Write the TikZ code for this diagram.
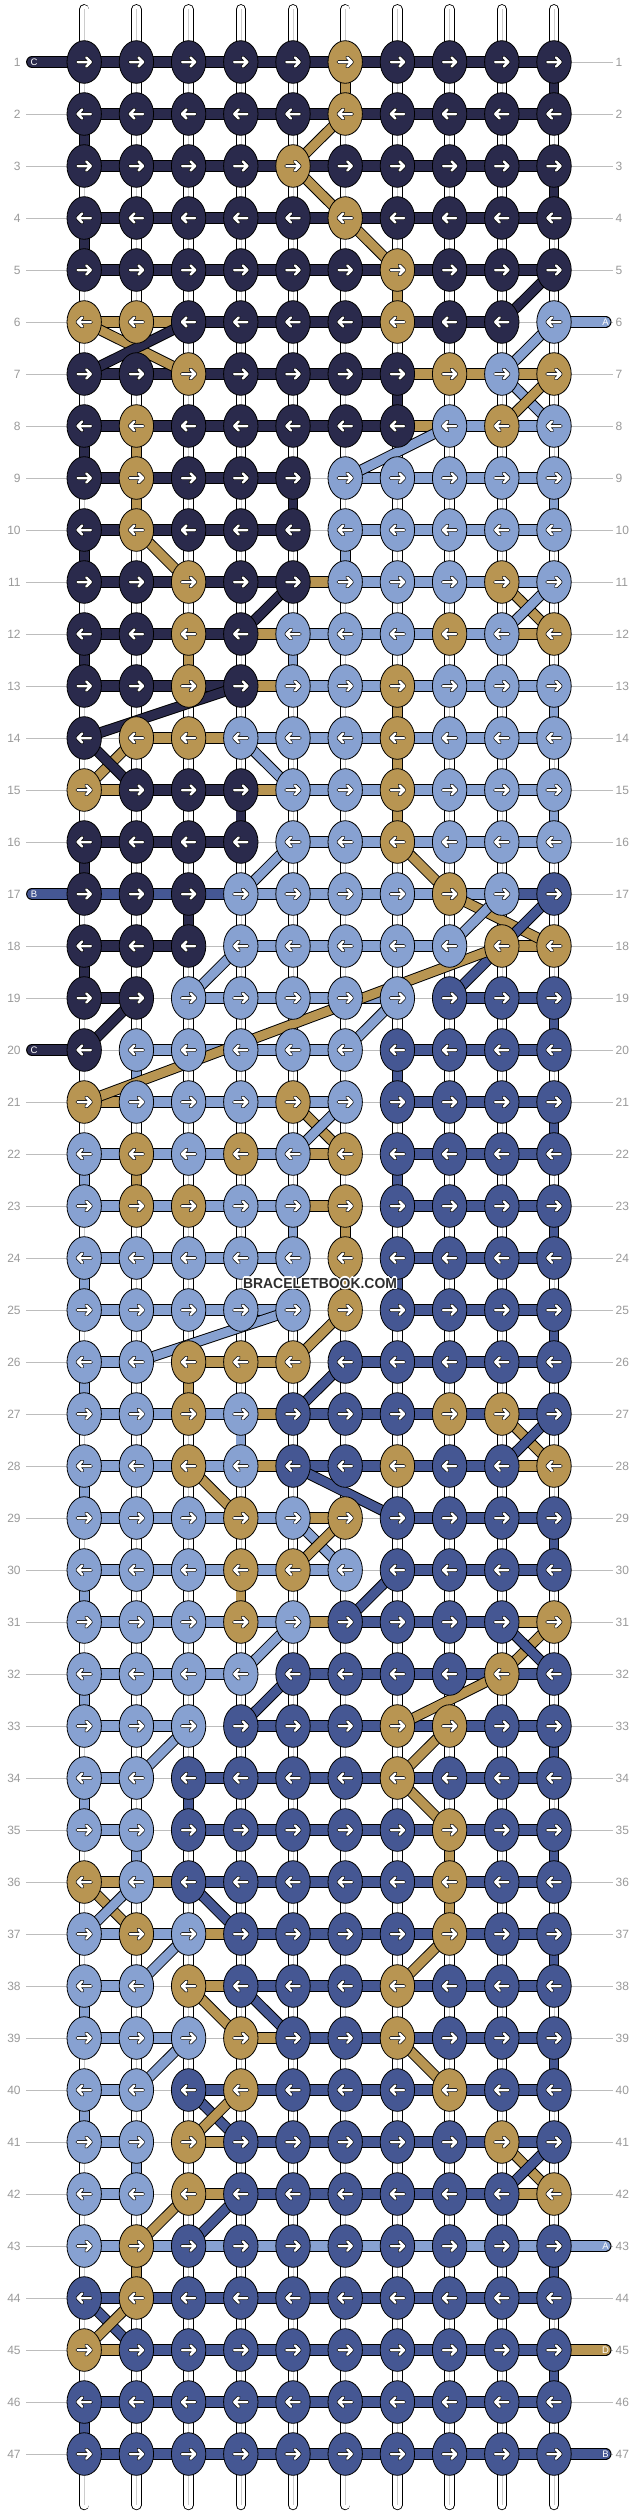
\documentclass[tikz,border=0pt]{standalone}
\usepackage{fontspec}
\setmainfont{Liberation Sans}
\usetikzlibrary{shapes.geometric}
\definecolor{kD}{HTML}{2A2A4C}
\definecolor{kG}{HTML}{B89552}
\definecolor{kL}{HTML}{87A1D1}
\definecolor{kB}{HTML}{455793}
\definecolor{lblgray}{HTML}{9A9A9A}
\definecolor{linegray}{HTML}{BDBDBD}
\definecolor{wmgray}{HTML}{2E2E2E}
\def\rowdata{%
1/{D,D,D,D,D,G,D,D,D,D}/{D,D,D,D,D,D,D,D,D}/{W,W,W,W,W,G,W,W,W,D},
2/{D,D,D,D,D,G,D,D,D,D}/{D,D,D,D,D,D,D,D,D}/{D,W,W,W,W,W,W,W,W,W},
3/{D,D,D,D,G,D,D,D,D,D}/{D,D,D,D,D,D,D,D,D}/{W,W,W,W,W,W,W,W,W,D},
4/{D,D,D,D,D,G,D,D,D,D}/{D,D,D,D,D,D,D,D,D}/{D,W,W,W,W,W,W,W,W,W},
5/{D,D,D,D,D,D,G,D,D,D}/{D,D,D,D,D,D,D,D,D}/{W,W,W,W,W,W,G,W,W,W},
6/{G,G,D,D,D,D,G,D,D,L}/{G,G,D,D,D,D,D,D,N}/{W,W,W,W,W,W,W,W,W,W},
7/{D,D,G,D,D,D,D,G,L,G}/{D,D,D,D,D,D,G,G,G}/{W,W,W,W,W,W,D,W,W,W},
8/{D,G,D,D,D,D,D,L,G,L}/{D,D,D,D,D,D,G,L,L}/{D,G,W,W,W,W,W,W,W,W},
9/{D,G,D,D,D,L,L,L,L,L}/{D,D,D,D,N,L,L,L,L}/{W,G,W,W,D,W,W,W,W,L},
10/{D,G,D,D,D,L,L,L,L,L}/{D,D,D,D,N,L,L,L,L}/{D,W,W,W,W,L,W,W,W,W},
11/{D,D,G,D,D,L,L,L,G,L}/{D,D,D,D,G,L,L,L,L}/{W,W,W,W,W,W,W,W,W,W},
12/{D,D,G,D,L,L,L,G,L,G}/{D,D,D,G,L,L,L,L,G}/{D,W,G,W,L,W,W,W,W,W},
13/{D,D,G,D,L,L,G,L,L,L}/{D,D,D,G,L,L,L,L,L}/{W,W,W,W,W,W,G,W,W,L},
14/{D,G,G,L,L,L,G,L,L,L}/{N,G,G,L,L,L,L,L,L}/{W,W,W,W,W,W,G,W,W,W},
15/{G,D,D,D,L,L,G,L,L,L}/{G,D,D,G,L,L,L,L,L}/{W,W,W,D,W,W,G,W,W,L},
16/{D,D,D,D,L,L,G,L,L,L}/{D,D,D,N,L,L,L,L,L}/{D,W,W,W,W,W,W,W,W,W},
17/{D,D,D,L,L,L,L,G,L,B}/{B,B,B,L,L,L,L,L,B}/{W,W,D,W,W,W,W,W,W,W},
18/{D,D,D,L,L,L,L,L,G,G}/{D,D,N,L,L,L,L,N,G}/{D,W,W,W,W,W,W,W,W,W},
19/{D,D,L,L,L,L,L,B,B,B}/{D,N,L,L,L,L,N,B,B}/{W,W,W,W,W,W,W,W,W,B},
20/{D,L,L,L,L,L,B,B,B,B}/{N,L,L,L,L,N,B,B,B}/{W,L,W,W,W,W,B,W,W,W},
21/{G,L,L,L,G,L,B,B,B,B}/{G,L,L,L,L,N,B,B,B}/{W,W,W,W,W,W,W,W,W,B},
22/{L,G,L,G,L,G,B,B,B,B}/{L,L,L,L,G,N,B,B,B}/{L,G,W,W,W,W,B,W,W,W},
23/{L,G,G,L,L,G,B,B,B,B}/{L,L,L,L,G,N,B,B,B}/{W,W,W,W,L,G,W,W,W,B},
24/{L,L,L,L,L,G,B,B,B,B}/{L,L,L,L,N,N,B,B,B}/{L,W,W,W,W,G,B,W,W,W},
25/{L,L,L,L,L,G,B,B,B,B}/{L,L,L,L,N,N,B,B,B}/{W,W,W,W,W,W,W,W,W,B},
26/{L,L,G,G,G,B,B,B,B,B}/{L,N,G,G,N,B,B,B,B}/{L,W,G,W,W,W,W,W,W,W},
27/{L,L,G,L,B,B,B,G,G,B}/{L,L,L,G,B,B,B,B,B}/{W,W,W,L,W,W,W,W,W,W},
28/{L,L,G,L,B,B,G,B,B,G}/{L,L,L,G,B,B,B,B,G}/{L,W,W,W,W,W,W,W,W,W},
29/{L,L,L,G,L,G,B,B,B,B}/{L,L,L,L,G,N,B,B,B}/{W,W,W,W,W,W,W,W,W,B},
30/{L,L,L,G,G,L,B,B,B,B}/{L,L,L,L,L,N,B,B,B}/{L,W,W,G,W,W,W,W,W,W},
31/{L,L,L,G,L,B,B,B,B,G}/{L,L,L,L,G,B,B,B,G}/{W,W,W,W,W,W,W,W,W,W},
32/{L,L,L,L,B,B,B,B,G,B}/{L,L,L,N,B,B,B,B,B}/{L,W,W,W,W,W,W,W,W,W},
33/{L,L,L,B,B,B,G,G,B,B}/{L,L,N,B,B,B,B,B,B}/{W,W,W,W,W,W,W,W,W,B},
34/{L,L,B,B,B,B,G,B,B,B}/{L,N,B,B,B,B,B,B,B}/{L,W,B,W,W,W,W,W,W,W},
35/{L,L,B,B,B,B,B,G,B,B}/{L,N,B,B,B,B,B,B,B}/{W,L,W,W,W,W,W,G,W,B},
36/{G,L,B,B,B,B,B,G,B,B}/{G,G,B,B,B,B,B,B,B}/{W,W,W,W,W,W,W,G,W,W},
37/{L,G,L,B,B,B,B,G,B,B}/{L,L,G,B,B,B,B,B,B}/{W,W,W,W,W,W,W,W,W,B},
38/{L,L,G,B,B,B,G,B,B,B}/{L,N,G,B,B,B,B,B,B}/{L,W,W,W,W,W,W,W,W,W},
39/{L,L,L,G,B,B,G,B,B,B}/{L,L,N,G,B,B,B,B,B}/{W,W,W,W,W,W,W,W,W,B},
40/{L,L,B,G,B,B,B,G,B,B}/{L,N,B,B,B,B,B,B,B}/{L,W,W,W,W,W,W,W,W,W},
41/{L,L,G,B,B,B,B,B,G,B}/{L,N,G,B,B,B,B,B,B}/{W,L,W,W,W,W,W,W,W,W},
42/{L,L,G,B,B,B,B,B,B,G}/{L,N,G,B,B,B,B,B,G}/{W,W,W,W,W,W,W,W,W,W},
43/{L,G,B,B,B,B,B,B,B,B}/{L,L,L,L,L,L,L,L,L}/{W,G,W,W,W,W,W,W,W,B},
44/{B,G,B,B,B,B,B,B,B,B}/{B,B,B,B,B,B,B,B,B}/{W,W,W,W,W,W,W,W,W,W},
45/{G,B,B,B,B,B,B,B,B,B}/{G,B,B,B,B,B,B,B,B}/{W,W,W,W,W,W,W,W,W,B},
46/{B,B,B,B,B,B,B,B,B,B}/{B,B,B,B,B,B,B,B,B}/{B,W,W,W,W,W,W,W,W,W},
47/{B,B,B,B,B,B,B,B,B,B}/{B,B,B,B,B,B,B,B,B}/{W,W,W,W,W,W,W,W,W,W}}
\def\diagdata{%
G/2/6/3/5, G/3/5/4/6, G/4/6/5/7, D/5/10/6/9, G/6/1/7/3, D/6/3/7/1, L/6/10/7/9,
L/7/9/8/10, G/7/10/8/9, L/8/8/9/6, G/10/2/11/3, D/11/5/12/4, G/11/9/12/10,
L/11/10/12/9, D/13/4/14/1, G/14/2/15/1, D/14/1/15/2, L/14/4/15/5, L/16/5/17/4,
G/16/7/17/8, G/17/8/18/10, L/17/9/18/8, B/17/10/19/8, L/18/4/19/3, G/18/9/21/1,
D/19/2/20/1, L/19/7/20/6, G/21/5/22/6, L/21/6/22/5, L/25/5/26/2, G/25/6/26/5,
B/26/6/27/5, G/27/9/28/10, B/27/10/28/9, G/28/3/29/4, B/28/5/29/7, L/29/5/30/6,
G/29/6/30/5, B/30/7/31/6, L/31/5/32/4, G/31/10/32/9, B/31/9/32/10, B/32/5/33/4,
G/32/9/33/7, L/33/3/34/2, G/33/8/34/7, G/34/7/35/8, G/36/1/37/2, L/36/2/37/1,
B/36/3/37/4, L/37/3/38/2, G/37/8/38/7, G/38/3/39/4, B/38/4/39/5, L/39/3/40/2,
G/39/7/40/8, B/40/3/41/4, G/40/4/41/3, G/41/9/42/10, B/41/10/42/9, G/42/3/43/2,
B/42/4/43/3, B/44/1/45/2, G/44/2/45/1}
\begin{document}
\begin{tikzpicture}[x=1pt,y=-1pt,
  hout/.style={line width=11.8pt, draw=black},
  hin/.style={line width=9.9pt},
  vout/.style={line width=10.6pt, draw=black},
  vin/.style={line width=8.7pt},
  dout/.style={line width=10.8pt, draw=black},
  din/.style={line width=8.9pt},
  knot/.style={ellipse, draw=black, line width=0.8pt, minimum width=34.4pt, minimum height=42.6pt, inner sep=0pt},
  lbl/.style={text=lblgray, inner sep=0pt, font=\fontsize{12}{12}\selectfont},
  stublbl/.style={text=white, inner sep=0pt, font=\fontsize{9.5}{9.5}\selectfont},
  wm/.style={inner sep=0pt, xscale=0.96, font=\fontsize{14.5}{14.5}\selectfont\bfseries},
  arrR/.pic={
    \draw[black,line width=3.9pt,line cap=round,line join=round] (-6.6,0)--(6.6,0) (2,-4.6)--(6.6,0)--(2,4.6);
    \draw[white,line width=2.5pt,line cap=round,line join=round] (-6.6,0)--(6.6,0) (2,-4.6)--(6.6,0)--(2,4.6);},
  arrL/.pic={
    \draw[black,line width=3.9pt,line cap=round,line join=round] (6.6,0)--(-6.6,0) (-2,-4.6)--(-6.6,0)--(-2,4.6);
    \draw[white,line width=2.5pt,line cap=round,line join=round] (6.6,0)--(-6.6,0) (-2,-4.6)--(-6.6,0)--(-2,4.6);}
]
\useasboundingbox[fill=white] (0,0) rectangle (636,2516);
% grid coordinates
\foreach \rr in {1,...,47} {
  \foreach \c in {1,...,10} {
    \coordinate (p-\rr-\c) at ({84.2+52.2*(\c-1)},{62+52*(\rr-1)});
  }
}
% warp tubes
\foreach \c in {1,...,10} {
  \coordinate (tt-\c) at ({84.2+52.2*(\c-1)},9.3);
  \coordinate (tb-\c) at ({84.2+52.2*(\c-1)},2505);
  \draw[line width=10.4pt, black, line cap=round] (tt-\c) -- (tb-\c);
  \draw[line width=8.6pt, white, line cap=round] (tt-\c) -- (tb-\c);
  \draw[line width=0.6pt, gray!40] (tt-\c) -- (tb-\c);
}
% row guide lines and labels
\foreach \rr in {1,...,47} {
  \coordinate (gl-\rr) at (26,{62+52*(\rr-1)});
  \coordinate (gr-\rr) at (613,{62+52*(\rr-1)});
  \draw[linegray, line width=1pt] (gl-\rr) -- (gr-\rr);
  \node[lbl, anchor=east] (ll-\rr) at (20.8,{62+52*(\rr-1)}) {\rr};
  \node[lbl, anchor=west] (lr-\rr) at (615.5,{62+52*(\rr-1)}) {\rr};
}
% string ends
\foreach \rr/\cc/\lt in {1/D/C, 17/B/B, 20/D/C} {
  \coordinate (sl-\rr) at (32,{62+52*(\rr-1)});
  \draw[hout, line cap=round] (sl-\rr) -- (p-\rr-1);
  \draw[hin, line cap=round, draw=k\cc] (sl-\rr) -- (p-\rr-1);
  \node[stublbl] (slt-\rr) at (34,{62+52*(\rr-1)}) {\lt};
}
\foreach \rr/\cc/\lt in {6/L/A, 43/L/A, 45/G/D, 47/B/B} {
  \coordinate (sr-\rr) at (605.6,{62+52*(\rr-1)});
  \draw[hout, line cap=round] (p-\rr-10) -- (sr-\rr);
  \draw[hin, line cap=round, draw=k\cc] (p-\rr-10) -- (sr-\rr);
  \node[stublbl] (srt-\rr) at (605.5,{62+52*(\rr-1)}) {\lt};
}
% horizontal and vertical thread segments
\foreach \rr/\Kl/\Hl/\Vl in \rowdata {
  \foreach \hc [count=\i] in \Hl {
    \if\hc N\else
      \pgfmathtruncatemacro\j{\i+1}
      \draw[hout] (p-\rr-\i) -- (p-\rr-\j);
      \draw[hin, draw=k\hc] (p-\rr-\i) -- (p-\rr-\j);
    \fi
  }
  \foreach \vc [count=\c] in \Vl {
    \if\vc W\else
      \pgfmathtruncatemacro\nr{\rr+1}
      \draw[vout] (p-\rr-\c) -- (p-\nr-\c);
      \draw[vin, draw=k\vc] (p-\rr-\c) -- (p-\nr-\c);
    \fi
  }
}
% diagonal thread segments
\foreach \dc/\ra/\ca/\rb/\cb in \diagdata {
  \draw[dout] (p-\ra-\ca) -- (p-\rb-\cb);
  \draw[din, draw=k\dc] (p-\ra-\ca) -- (p-\rb-\cb);
}
% knots
\foreach \rr/\Kl/\Hl/\Vl in \rowdata {
  \foreach \kc [count=\c] in \Kl {
    \node[knot, fill=k\kc] (k-\rr-\c) at (p-\rr-\c) {};
    \ifodd\rr\relax
      \pic at (p-\rr-\c) {arrR};
    \else
      \pic at (p-\rr-\c) {arrL};
    \fi
  }
}
% watermark
\foreach \dx/\dy [count=\n] in {-1.3/0,1.3/0,0/-1.3,0/1.3,-1/-1,1/-1,-1/1,1/1} {
  \node[wm, text=white] (wmh-\n) at ({320+(\dx)},{1283+(\dy)}) {BRACELETBOOK.COM};
}
\node[wm, text=wmgray] (wm) at (320,1283) {BRACELETBOOK.COM};
\end{tikzpicture}
\end{document}
